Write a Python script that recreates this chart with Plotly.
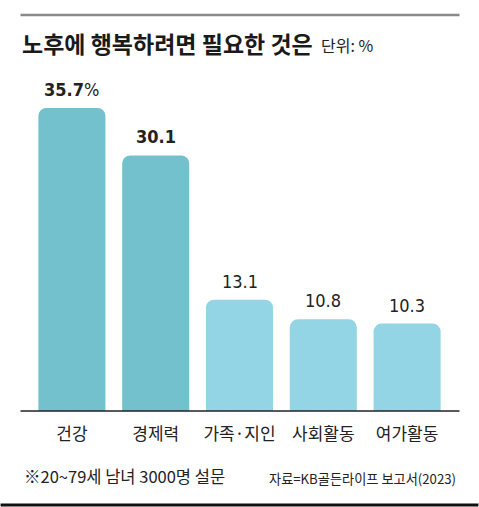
import plotly.graph_objects as go

categories = ["건강", "경제력", "가족·지인", "사회활동", "여가활동"]
values = [35.7, 30.1, 13.1, 10.8, 10.3]
value_labels = ["<b>35.7</b>%", "<b>30.1</b>", "13.1", "10.8", "10.3"]
colors = ["#72c1cc", "#72c1cc", "#93d5e4", "#93d5e4", "#93d5e4"]

W, H = 479, 507
KR = "Noto Sans CJK KR"
NUM = "DejaVu Sans Condensed, Noto Sans CJK KR"

fig = go.Figure(go.Bar(
    x=categories, y=values,
    marker=dict(color=colors, line=dict(width=0), cornerradius=8),
    hoverinfo="skip",
))

for c, v, t in zip(categories, values, value_labels):
    fig.add_annotation(x=c, y=v, text=t, showarrow=False, yanchor="bottom",
                       yshift=6, font=dict(family=NUM, size=18, color="#222"))

ml, mr, mt, mb = 29.5, W - 449.5, 60, H - 411
fig.update_layout(
    width=W, height=H,
    margin=dict(l=ml, r=mr, t=mt, b=mb, pad=0),
    paper_bgcolor="white", plot_bgcolor="white",
    bargap=0.2, showlegend=False,
    xaxis=dict(showgrid=False, showline=False, zeroline=False, ticks="",
               tickfont=dict(family=KR, size=17, color="#222"), ticklabelstandoff=11),
    yaxis=dict(range=[0, 351 / 8.49], showgrid=False, zeroline=False,
               showline=False, showticklabels=False, ticks=""),
)

def px(x):
    return (x - ml) / (W - ml - mr)

def py(y):
    return (H - mb - y) / (H - mt - mb)

fig.add_shape(type="line", xref="paper", yref="paper", x0=px(20), x1=px(460),
              y0=py(15), y1=py(15), line=dict(color="#8a8a8a", width=2.5))
fig.add_shape(type="line", xref="paper", yref="paper", x0=px(20), x1=px(460),
              y0=py(411), y1=py(411), line=dict(color="#222", width=1.5))
fig.add_shape(type="line", xref="paper", yref="paper", x0=px(0), x1=px(479),
              y0=py(505), y1=py(505), line=dict(color="#111", width=3))

fig.add_annotation(xref="paper", yref="paper", x=px(19), y=py(43), xanchor="left",
                   yanchor="middle", showarrow=False,
                   text="<b>노후에 행복하려면 필요한 것은</b>",
                   font=dict(family=KR, size=23, color="#1a1a1a"))
fig.add_annotation(xref="paper", yref="paper", x=px(319), y=py(45), xanchor="left",
                   yanchor="middle", showarrow=False, text="단위: %",
                   font=dict(family=KR, size=16, color="#222"))
fig.add_annotation(xref="paper", yref="paper", x=px(21), y=py(476), xanchor="left",
                   yanchor="middle", showarrow=False, text="※20~79세 남녀 3000명 설문",
                   font=dict(family=KR, size=16.5, color="#222"))
fig.add_annotation(xref="paper", yref="paper", x=px(459), y=py(478), xanchor="right",
                   yanchor="middle", showarrow=False, text="자료=KB골든라이프 보고서(2023)",
                   font=dict(family=KR, size=13.2, color="#222"))

fig.write_html("out.html", config={"displayModeBar": False},
               post_script="document.body.style.margin='0';")
